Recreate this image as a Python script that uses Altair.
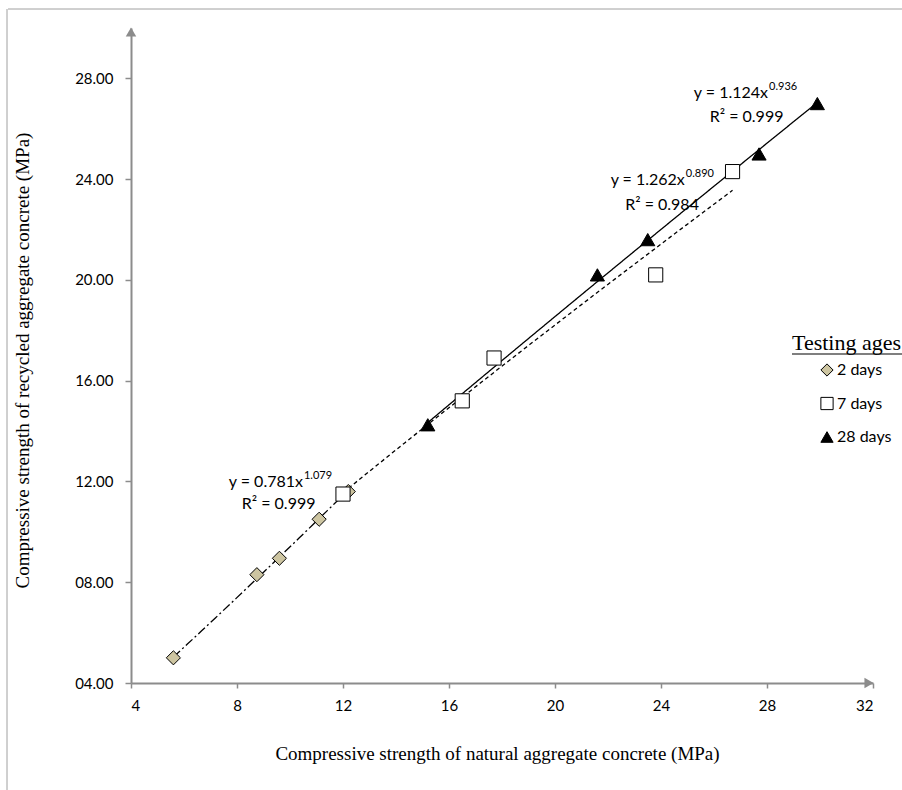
import altair as alt
import pandas as pd

# ---- data ----
ages = ["2 days", "7 days", "28 days"]
age_shapes = ["diamond", "square", "triangle-up"]
age_fills = ["#cdc5a1", "white", "black"]
na_2 = [5.6, 8.75, 9.6, 11.1, 12.2]
ra_2 = [5.0, 8.3, 8.95, 10.5, 11.6]
na_7 = [12.0, 16.5, 17.7, 23.8, 26.7]
ra_7 = [11.5, 15.2, 16.9, 20.2, 24.3]
na_28 = [15.2, 21.6, 23.5, 27.7, 29.9]
ra_28 = [14.25, 20.2, 21.6, 25.0, 27.0]

x_ticks = [4, 8, 12, 16, 20, 24, 28, 32]
y_ticks = [4, 8, 12, 16, 20, 24, 28]

eq_main = ["y = 1.124x", "y = 1.262x", "y = 0.781x"]
eq_exp = ["0.936", "0.890", "1.079"]
eq_r2 = ["R\u00b2 = 0.999", "R\u00b2 = 0.984", "R\u00b2 = 0.999"]
eq_x = [28.04, 24.9, 10.49]
eq_y = [27.41, 23.96, 11.98]
r2_x = [27.23, 24.04, 9.57]
r2_y = [26.46, 22.97, 11.10]

rows = []
for age, xs, ys in [("2 days", na_2, ra_2), ("7 days", na_7, ra_7), ("28 days", na_28, ra_28)]:
    for a, b in zip(xs, ys):
        rows.append({"age": age, "x": a, "y": b})
df = pd.DataFrame(rows)

eq_df = pd.DataFrame({"main": eq_main, "exp": eq_exp, "x": eq_x, "y": eq_y})
r2_df = pd.DataFrame({"r2": eq_r2, "x": r2_x, "y": r2_y})

LABEL_FONT = "Lato"
SERIF = "Liberation Serif"
GRAY = "#8c8c8c"

xscale = alt.Scale(domain=[4, 32], nice=False, zero=False)
yscale = alt.Scale(domain=[4, 30], nice=False, zero=False)

x_enc = alt.X(
    "x:Q", scale=xscale,
    axis=alt.Axis(
        values=x_ticks, title="Compressive strength  of natural aggregate concrete (MPa)",
        grid=False, domainColor=GRAY, domainWidth=2, tickColor=GRAY, tickWidth=1.5,
        tickSize=5, labelFont=LABEL_FONT, labelFontSize=15, labelColor="black",
        labelPadding=10, titleFont=SERIF, titleFontSize=19, titleFontWeight="normal",
        titleColor="black", titleX=366, titleY=70, titleBaseline="middle",
        titleAnchor="start", titleAlign="center",
    ),
)
y_enc = alt.Y(
    "y:Q", scale=yscale,
    axis=alt.Axis(
        values=y_ticks, format="05.2f",
        title="Compressive strength of recycled  aggregate concrete (MPa)",
        grid=False, domainColor=GRAY, domainWidth=2, tickColor=GRAY, tickWidth=1.5,
        tickSize=6, labelFont=LABEL_FONT, labelFontSize=15, labelColor="black",
        labelPadding=12, titleFont=SERIF, titleFontSize=19, titleFontWeight="normal",
        titleColor="black", titleX=-109, titleY=332, titleBaseline="middle",
        titleAlign="center", titleAngle=-90,
    ),
)

base = alt.Chart(df)

lines = base.transform_regression(
    "x", "y", method="pow", groupby=["age"]
).mark_line(color="black", strokeWidth=1.3).encode(
    x=alt.X("x:Q", scale=xscale),
    y=alt.Y("y:Q", scale=yscale),
    strokeDash=alt.StrokeDash(
        "age:N",
        scale=alt.Scale(domain=ages, range=[[9, 3, 2, 3], [4, 3], [1, 0]]),
        legend=None,
    ),
    detail="age:N",
)

points = base.mark_point(filled=True, stroke="black", strokeWidth=1, opacity=1, size=200).encode(
    x=x_enc,
    y=y_enc,
    shape=alt.Shape("age:N", scale=alt.Scale(domain=ages, range=age_shapes), legend=None),
    fill=alt.Fill("age:N", scale=alt.Scale(domain=ages, range=age_fills), legend=None),
)

arrow_x = alt.Chart(pd.DataFrame({"a": [0]})).mark_point(
    shape="triangle-right", filled=True, color=GRAY, size=110, opacity=1, xOffset=-4
).encode(x=alt.datum(32, scale=xscale), y=alt.datum(4, scale=yscale))
arrow_y = alt.Chart(pd.DataFrame({"a": [0]})).mark_point(
    shape="triangle-up", filled=True, color=GRAY, size=110, opacity=1, yOffset=4
).encode(x=alt.datum(4, scale=xscale), y=alt.datum(30, scale=yscale))

eq_text = alt.Chart(eq_df).mark_text(
    font=LABEL_FONT, fontSize=16, align="right", baseline="middle", color="black"
).encode(x=alt.X("x:Q", scale=xscale), y=alt.Y("y:Q", scale=yscale), text="main:N")
eq_sup = alt.Chart(eq_df).mark_text(
    font=LABEL_FONT, fontSize=11, align="left", baseline="middle", color="black", dx=1, dy=-6
).encode(x=alt.X("x:Q", scale=xscale), y=alt.Y("y:Q", scale=yscale), text="exp:N")
r2_text = alt.Chart(r2_df).mark_text(
    font=LABEL_FONT, fontSize=16, align="center", baseline="middle", color="black"
).encode(x=alt.X("x:Q", scale=xscale), y=alt.Y("y:Q", scale=yscale), text="r2:N")

one = pd.DataFrame({"t": ["Testing ages"]})
leg_title = alt.Chart(one).mark_text(
    font=SERIF, fontSize=22, align="left", baseline="alphabetic", color="black"
).encode(x=alt.value(661), y=alt.value(322), text="t:N")
leg_under = alt.Chart(one).mark_rule(color="black", strokeWidth=1.2).encode(
    x=alt.value(661), x2=alt.value(775), y=alt.value(326)
)

# legend entries (symbol + label), one row each
legend_layers = []
for i, (age, shp, fc) in enumerate(zip(ages, age_shapes, age_fills)):
    row = pd.DataFrame({"age": [age]})
    ypos = 342 + i * 33.5
    legend_layers.append(
        alt.Chart(row).mark_point(
            shape=shp, filled=True, fill=fc, stroke="black", strokeWidth=1, opacity=1, size=150
        ).encode(x=alt.value(696), y=alt.value(ypos))
    )
    legend_layers.append(
        alt.Chart(row).mark_text(
            font=LABEL_FONT, fontSize=16, align="left", baseline="middle", color="black"
        ).encode(x=alt.value(706), y=alt.value(ypos), text="age:N")
    )

frame_top = alt.Chart(one).mark_rule(color="#a0a0a0", strokeWidth=1).encode(
    x=alt.value(-123), x2=alt.value(775), y=alt.value(-19)
)
frame_left = alt.Chart(one).mark_rule(color="#a0a0a0", strokeWidth=1).encode(
    x=alt.value(-124), y=alt.value(-19), y2=alt.value(765)
)

chart = alt.layer(
    frame_top, frame_left, lines, points, arrow_x, arrow_y,
    eq_text, eq_sup, r2_text, leg_title, leg_under, *legend_layers,
).properties(
    width=742, height=655,
    autosize=alt.AutoSizeParams(type="none"),
    padding={"left": 131, "top": 28, "right": 29, "bottom": 107},
    background="white",
).configure_view(stroke=None)

chart.save("out.html", embed_options={"renderer": "svg", "actions": False})
